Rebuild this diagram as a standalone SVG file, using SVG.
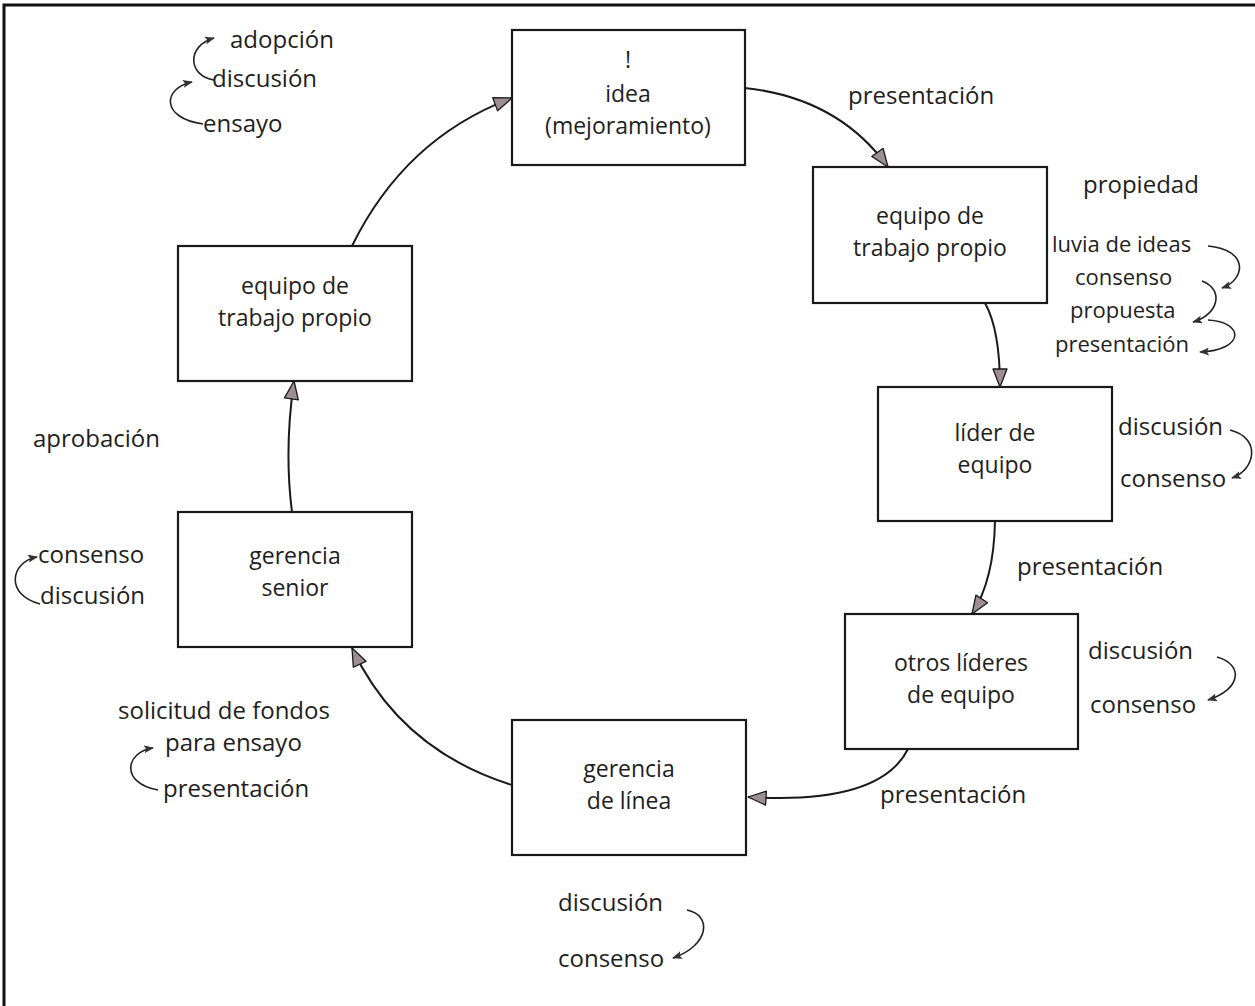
<svg xmlns="http://www.w3.org/2000/svg" width="1255" height="1006" viewBox="0 0 1255 1006">
  <defs>
    <style>
      .box { fill: #ffffff; stroke: #1a1a1a; stroke-width: 2.2; }
      .t { font-family: "Open Sans", "Noto Sans", sans-serif; font-size: 24px; fill: #1e1e1e; }
      .tc { text-anchor: middle; font-size: 23px; }
      .s { font-size: 22px; }
      .link { fill: none; stroke: #1a1a1a; stroke-width: 2; marker-end: url(#head); }
      .curl { fill: none; stroke: #222; stroke-width: 1.6; marker-end: url(#tip); }
    </style>
    <!-- large shaded arrowhead for the main cycle -->
    <marker id="head" viewBox="0 0 20 16" markerWidth="20" markerHeight="16" refX="19" refY="8" orient="auto" markerUnits="userSpaceOnUse">
      <path d="M1,1 L19,8 L1,15 Z" fill="#9d8e94" stroke="#1a1a1a" stroke-width="1.3" stroke-linejoin="round"/>
    </marker>
    <!-- small dark arrowhead for the side sequences -->
    <marker id="tip" viewBox="0 0 10 8" markerWidth="10" markerHeight="8" refX="9" refY="4" orient="auto" markerUnits="userSpaceOnUse">
      <path d="M0,0 L10,4 L0,8 L2,4 Z" fill="#333"/>
    </marker>
  </defs>

  <rect width="1255" height="1006" fill="#ffffff"/>
  <!-- outer frame -->
  <path d="M4,1006 V5 H1255" fill="none" stroke="#111" stroke-width="3"/>

  <!-- cycle connectors -->
  <g id="connectors">
    <path class="link" d="M745,88 Q838,98 888,167"/>
    <path class="link" d="M985,303 Q1000,330 1000,387"/>
    <path class="link" d="M995,521 Q994,580 972,614"/>
    <path class="link" d="M908,749 Q880,805 748,797"/>
    <path class="link" d="M512,785 Q400,750 352,648"/>
    <path class="link" d="M292,512 Q284,450 294,381"/>
    <path class="link" d="M352,246 Q405,138 512,98"/>

    <!-- side sequences -->
    <path class="curl" d="M214,80 C188,76 186,46 214,38"/>
    <path class="curl" d="M203,124 C160,118 163,88 192,82"/>
    <path class="curl" d="M1208,246 C1250,250 1245,280 1222,288"/>
    <path class="curl" d="M1202,281 C1225,290 1218,315 1193,322"/>
    <path class="curl" d="M1208,320 C1245,322 1245,350 1200,352"/>
    <path class="curl" d="M1230,430 C1262,438 1255,470 1232,478"/>
    <path class="curl" d="M1217,657 C1245,665 1240,690 1208,700"/>
    <path class="curl" d="M687,910 C712,915 710,945 673,958"/>
    <path class="curl" d="M40,604 C5,595 10,562 37,557"/>
    <path class="curl" d="M158,790 C120,783 125,752 153,748"/>
  </g>

  <g id="idea">
    <rect class="box" x="512" y="30" width="233" height="135"/>
    <text class="t tc" x="628" y="68">!</text>
    <text class="t tc" x="628" y="102">idea</text>
    <text class="t tc" x="628" y="134">(mejoramiento)</text>
  </g>

  <g id="equipo-propio-a">
    <rect class="box" x="813" y="167" width="234" height="136"/>
    <text class="t tc" x="930" y="224">equipo de</text>
    <text class="t tc" x="930" y="256">trabajo propio</text>
  </g>

  <g id="lider">
    <rect class="box" x="878" y="387" width="234" height="134"/>
    <text class="t tc" x="995" y="441">líder de</text>
    <text class="t tc" x="995" y="473">equipo</text>
  </g>

  <g id="otros-lideres">
    <rect class="box" x="845" y="614" width="233" height="135"/>
    <text class="t tc" x="961" y="671">otros líderes</text>
    <text class="t tc" x="961" y="703">de equipo</text>
  </g>

  <g id="gerencia-linea">
    <rect class="box" x="512" y="720" width="234" height="135"/>
    <text class="t tc" x="629" y="777">gerencia</text>
    <text class="t tc" x="629" y="809">de línea</text>
  </g>

  <g id="gerencia-senior">
    <rect class="box" x="178" y="512" width="234" height="135"/>
    <text class="t tc" x="295" y="564">gerencia</text>
    <text class="t tc" x="295" y="596">senior</text>
  </g>

  <g id="equipo-propio-b">
    <rect class="box" x="178" y="246" width="234" height="135"/>
    <text class="t tc" x="295" y="294">equipo de</text>
    <text class="t tc" x="295" y="326">trabajo propio</text>
  </g>

  <!-- labels -->
  <g id="labels">
    <text class="t" x="230" y="48">adopción</text>
    <text class="t" x="212" y="87">discusión</text>
    <text class="t" x="203" y="132">ensayo</text>

    <text class="t" x="848" y="104">presentación</text>

    <text class="t" x="1083" y="193">propiedad</text>
    <text class="t s" x="1052" y="252">luvia de ideas</text>
    <text class="t s" x="1075" y="285">consenso</text>
    <text class="t s" x="1070" y="318">propuesta</text>
    <text class="t s" x="1055" y="352">presentación</text>

    <text class="t" x="1118" y="435">discusión</text>
    <text class="t" x="1120" y="487">consenso</text>

    <text class="t" x="1017" y="575">presentación</text>

    <text class="t" x="1088" y="659">discusión</text>
    <text class="t" x="1090" y="713">consenso</text>

    <text class="t" x="880" y="803">presentación</text>

    <text class="t" x="558" y="911">discusión</text>
    <text class="t" x="558" y="967">consenso</text>

    <text class="t" x="33" y="447">aprobación</text>

    <text class="t" x="38" y="563">consenso</text>
    <text class="t" x="40" y="604">discusión</text>

    <text class="t" x="118" y="719">solicitud de fondos</text>
    <text class="t" x="165" y="751">para ensayo</text>
    <text class="t" x="163" y="797">presentación</text>
  </g>
</svg>
